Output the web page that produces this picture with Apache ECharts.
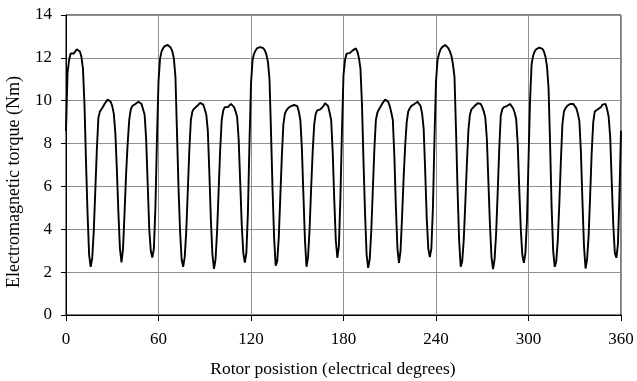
<!DOCTYPE html>
<html>
<head>
<meta charset="utf-8">
<script src="https://cdn.jsdelivr.net/npm/echarts@6/dist/echarts.min.js"></script>
<style>
  html, body { margin: 0; padding: 0; background: #fff; }
  #chart { width: 637px; height: 381px; }
</style>
</head>
<body>
<div id="chart"></div>
<script>
// rotor position runs 0..360 in 1 degree steps, torque (Nm)
var stepDeg = 1;
var torque = [
  // 0 - 59
  8.6, 11.3, 11.9, 12.2, 12.28, 12.2, 12.25, 12.4, 12.45, 12.3,
  12.05, 11.5, 9.8, 7.1, 4.7, 2.8, 2.25, 2.65, 3.9, 5.8,
  7.7, 9.2, 9.5, 9.6, 9.72, 9.85, 9.95, 10.05, 10.08, 9.95,
  9.75, 9.4, 8.5, 6.8, 4.75, 3.1, 2.45, 3.1, 4.8, 6.6,
  8.0, 9.1, 9.6, 9.75, 9.8, 9.85, 9.9, 9.95, 9.97, 9.85,
  9.6, 9.35, 8.2, 6.1, 4.0, 3.0, 2.68, 3.1, 5.0, 8.2,
  // 60 - 119
  10.9, 11.95, 12.3, 12.45, 12.55, 12.6, 12.6, 12.55, 12.47, 12.3,
  11.95, 11.1, 8.5, 5.9, 3.9, 2.6, 2.25, 2.7, 3.9, 5.8,
  7.7, 9.1, 9.5, 9.62, 9.7, 9.75, 9.82, 9.9, 9.92, 9.82,
  9.6, 9.35, 8.6, 6.6, 4.4, 2.8, 2.15, 2.6, 3.9, 5.8,
  7.7, 9.1, 9.55, 9.7, 9.72, 9.7, 9.78, 9.85, 9.82, 9.7,
  9.5, 9.25, 8.2, 6.2, 4.2, 2.9, 2.45, 2.9, 4.8, 8.0,
  // 120 - 179
  10.8, 11.9, 12.2, 12.35, 12.45, 12.5, 12.5, 12.5, 12.45, 12.35,
  12.15, 11.8, 11.0, 8.5, 5.8, 3.6, 2.3, 2.5, 3.6, 5.5,
  7.4, 8.9, 9.4, 9.55, 9.65, 9.7, 9.75, 9.8, 9.8, 9.8,
  9.75, 9.5, 9.1, 7.8, 5.6, 3.5, 2.25, 2.7, 4.0, 5.9,
  7.6, 8.9, 9.4, 9.55, 9.6, 9.6, 9.65, 9.75, 9.88, 9.9,
  9.75, 9.45, 9.1, 7.6, 5.4, 3.5, 2.67, 3.2, 5.5, 8.6,
  // 180 - 239
  11.2, 11.9, 12.2, 12.27, 12.22, 12.25, 12.35, 12.43, 12.44, 12.3,
  12.0, 11.5, 9.8, 7.1, 4.7, 2.8, 2.2, 2.6, 3.9, 5.8,
  7.7, 9.1, 9.45, 9.6, 9.72, 9.85, 9.95, 10.05, 10.08, 9.95,
  9.75, 9.45, 9.1, 7.4, 5.0, 3.1, 2.43, 3.0, 4.6, 6.4,
  7.9, 9.0, 9.5, 9.65, 9.75, 9.8, 9.85, 9.9, 9.95, 9.95,
  9.75, 9.4, 8.7, 6.7, 4.5, 3.1, 2.7, 3.1, 5.0, 8.2,
  // 240 - 299
  10.9, 11.9, 12.2, 12.4, 12.5, 12.58, 12.6, 12.55, 12.45, 12.3,
  12.1, 11.7, 11.1, 8.6, 5.8, 3.5, 2.25, 2.5, 3.5, 5.2,
  7.0, 8.6, 9.35, 9.6, 9.68, 9.75, 9.8, 9.88, 9.92, 9.85,
  9.7, 9.5, 9.2, 8.2, 6.2, 4.2, 2.7, 2.14, 2.6, 3.8,
  5.7, 7.7, 9.3, 9.6, 9.7, 9.75, 9.75, 9.8, 9.85, 9.8,
  9.65, 9.45, 9.15, 8.0, 5.9, 4.0, 2.8, 2.43, 2.9, 4.4,
  // 300 - 360
  7.2, 10.0, 11.7, 12.1, 12.3, 12.4, 12.45, 12.48, 12.48, 12.42,
  12.3, 12.05, 11.6, 10.6, 8.0, 5.0, 3.0, 2.25, 2.5, 3.5,
  5.2, 7.2, 8.9, 9.5, 9.65, 9.75, 9.82, 9.85, 9.85, 9.85,
  9.8, 9.65, 9.4, 9.05, 7.6, 5.3, 3.2, 2.17, 2.6, 3.7,
  5.6, 7.6, 9.0, 9.5, 9.58, 9.6, 9.62, 9.7, 9.82, 9.9,
  9.85, 9.6, 9.25, 8.3, 6.2, 4.2, 2.9, 2.67, 3.3, 5.6,
  8.6
];

var xTicks = [0, 60, 120, 180, 240, 300, 360];
var yTicks = [0, 2, 4, 6, 8, 10, 12, 14];
var xTitle = 'Rotor posistion (electrical degrees)';
var yTitle = 'Electromagnetic torque (Nm)';

var font = 'Liberation Serif';
var seriesData = torque.map(function (v, i) { return [i * stepDeg, v]; });

var chart = echarts.init(document.getElementById('chart'), null, { renderer: 'canvas' });
var option = {
  backgroundColor: '#fff',
  animation: false,
  grid: {
    left: 66, right: 16, top: 15, bottom: 66,
    show: true, borderColor: '#000', borderWidth: 1, backgroundColor: 'transparent'
  },
  xAxis: {
    type: 'value',
    min: xTicks[0], max: xTicks[xTicks.length - 1], interval: 60,
    axisLine: { show: true, onZero: false, lineStyle: { color: '#000', width: 1 } },
    axisTick: { show: true, length: 6, lineStyle: { color: '#000' } },
    axisLabel: { margin: 16, color: '#000', fontFamily: font, fontSize: 17 },
    splitLine: { show: true, lineStyle: { color: '#8f8f8f', width: 1 } }
  },
  yAxis: {
    type: 'value',
    min: yTicks[0], max: yTicks[yTicks.length - 1], interval: 2,
    axisLine: { show: true, lineStyle: { color: '#000', width: 1 } },
    axisTick: { show: true, length: 5, lineStyle: { color: '#000' } },
    axisLabel: { margin: 14, color: '#000', fontFamily: font, fontSize: 17 },
    splitLine: { show: true, lineStyle: { color: '#8f8f8f', width: 1 } }
  },
  graphic: [
    {
      type: 'text', x: 333, y: 369,
      style: { text: xTitle, fill: '#000', font: '17.5px "Liberation Serif"', align: 'center', verticalAlign: 'middle' }
    },
    {
      type: 'text', x: 14, y: 182, rotation: Math.PI / 2,
      style: { text: yTitle, fill: '#000', font: '18px "Liberation Serif"', align: 'center', verticalAlign: 'middle' }
    }
  ],
  series: [{
    type: 'line',
    data: seriesData,
    showSymbol: false,
    smooth: false,
    lineStyle: { color: '#000', width: 1.9 }
  }]
};
chart.setOption(option);
</script>
</body>
</html>
